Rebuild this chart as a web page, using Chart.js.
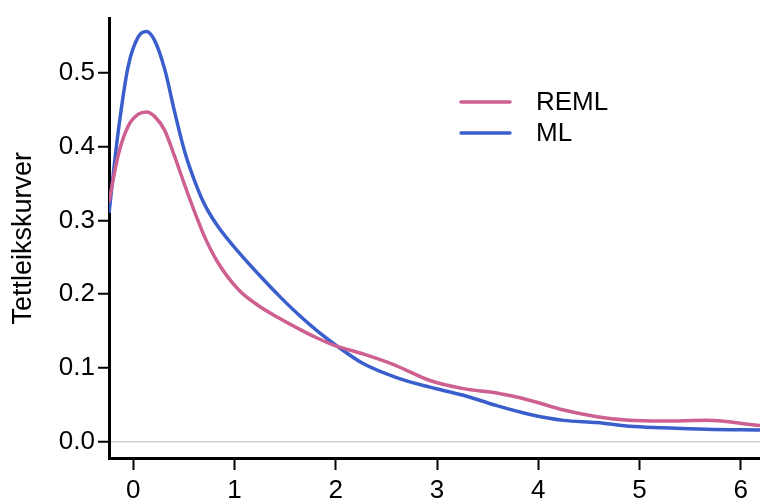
<!DOCTYPE html>
<html lang="en">
<head>
    <meta charset="UTF-8">
    <title>Tettleikskurver</title>
    <style>
        html, body {
            margin: 0;
            padding: 0;
            background: #fff;
        }
        #wrap {
            width: 760px;
            height: 498px;
        }
    </style>
    <script src="https://cdn.jsdelivr.net/npm/chart.js"></script>
</head>
<body>
    <div id="wrap"><canvas id="densChart"></canvas></div>
    <script>
        // values
        const xGrid = [-0.24, -0.15, -0.05, 0.05, 0.13, 0.21, 0.31, 0.41, 0.51, 0.61, 0.71, 0.84, 1.04, 1.23, 1.46, 1.65, 1.81,
            2.0, 2.27, 2.6, 2.93, 3.26, 3.59, 3.92, 4.25, 4.58, 4.9, 5.23, 5.66, 6.19];
        const remlDens = [0.325, 0.388, 0.428, 0.444, 0.447, 0.441, 0.422, 0.386, 0.347, 0.31, 0.276, 0.242, 0.206, 0.185, 0.166, 0.152, 0.141,
            0.130, 0.119, 0.103, 0.083, 0.072, 0.066, 0.056, 0.043, 0.034, 0.029, 0.028, 0.029, 0.022];
        const mlDens = [0.31, 0.419, 0.509, 0.549, 0.556, 0.544, 0.505, 0.446, 0.392, 0.352, 0.320, 0.291, 0.257, 0.228, 0.195, 0.170, 0.151,
            0.131, 0.106, 0.087, 0.074, 0.063, 0.049, 0.037, 0.029, 0.026, 0.021, 0.019, 0.017, 0.016];
        const seriesNames = ['REML', 'ML'];
        const xTicks = [0, 1, 2, 3, 4, 5, 6];
        const yTicks = [0, 0.1, 0.2, 0.3, 0.4, 0.5];

        const font = { family: '"Liberation Sans", Arial, sans-serif', size: 26, lineHeight: 1.2 };
        const titleFont = { family: font.family, size: 27, lineHeight: 1.2 };

        const toPoints = ys => xGrid.map((x, i) => ({ x: x, y: ys[i] }));

        // legend drawn by hand so it can sit inside the plot
        const cornerLegend = {
            id: 'cornerLegend',
            afterDatasetsDraw(chart) {
                const c = chart.ctx;
                c.save();
                c.font = font.size + 'px ' + font.family;
                c.textBaseline = 'middle';
                c.fillStyle = '#000';
                chart.data.datasets.forEach((ds, i) => {
                    const y = 102 + i * 31;
                    c.strokeStyle = ds.borderColor;
                    c.lineWidth = 3.5;
                    c.lineCap = 'round';
                    c.beginPath();
                    c.moveTo(461, y);
                    c.lineTo(510, y);
                    c.stroke();
                    c.fillText(ds.label, 536, y + 1);
                });
                c.restore();
            }
        };

        const ctx = document.getElementById('densChart').getContext('2d');
        new Chart(ctx, {
            type: 'line',
            data: {
                datasets: [
                    {
                        label: seriesNames[0],
                        data: toPoints(remlDens),
                        borderColor: '#CD6090',
                        borderWidth: 3.5,
                        pointRadius: 0,
                        cubicInterpolationMode: 'monotone',
                        fill: false
                    },
                    {
                        label: seriesNames[1],
                        data: toPoints(mlDens),
                        borderColor: '#3A5FCD',
                        borderWidth: 3.5,
                        pointRadius: 0,
                        cubicInterpolationMode: 'monotone',
                        fill: false
                    }
                ]
            },
            options: {
                responsive: true,
                maintainAspectRatio: false,
                animation: false,
                layout: { padding: { top: 15, right: 0, left: 0, bottom: 0 } },
                plugins: {
                    legend: { display: false },
                    tooltip: { enabled: false }
                },
                scales: {
                    x: {
                        type: 'linear',
                        min: -0.24,
                        max: 6.19,
                        afterFit: s => { s.height = 40; },
                        afterBuildTicks: s => { s.ticks = xTicks.map(v => ({ value: v })); },
                        border: { display: true, color: '#000', width: 3 },
                        grid: {
                            drawOnChartArea: false,
                            drawTicks: true,
                            tickLength: 12,
                            tickWidth: 2,
                            tickColor: '#000'
                        },
                        ticks: {
                            font: font,
                            color: '#000',
                            padding: 5,
                            maxRotation: 0,
                            callback: v => String(v)
                        }
                    },
                    y: {
                        type: 'linear',
                        min: -0.022,
                        max: 0.5735,
                        afterFit: s => { s.width = 109; },
                        afterBuildTicks: s => { s.ticks = yTicks.map(v => ({ value: v })); },
                        border: { display: true, color: '#000', width: 3 },
                        grid: {
                            drawOnChartArea: true,
                            color: c => (c.tick && c.tick.value === 0) ? '#d0d0d0' : 'rgba(0,0,0,0)',
                            lineWidth: 1.5,
                            drawTicks: true,
                            tickLength: 11,
                            tickWidth: 2,
                            tickColor: '#000'
                        },
                        ticks: {
                            font: font,
                            color: '#000',
                            padding: 3,
                            callback: v => v.toFixed(1)
                        },
                        title: {
                            display: true,
                            text: 'Tettleikskurver',
                            font: titleFont,
                            color: '#000',
                            padding: { top: 7, bottom: 0 }
                        }
                    }
                }
            },
            plugins: [cornerLegend]
        });
    </script>
</body>
</html>
